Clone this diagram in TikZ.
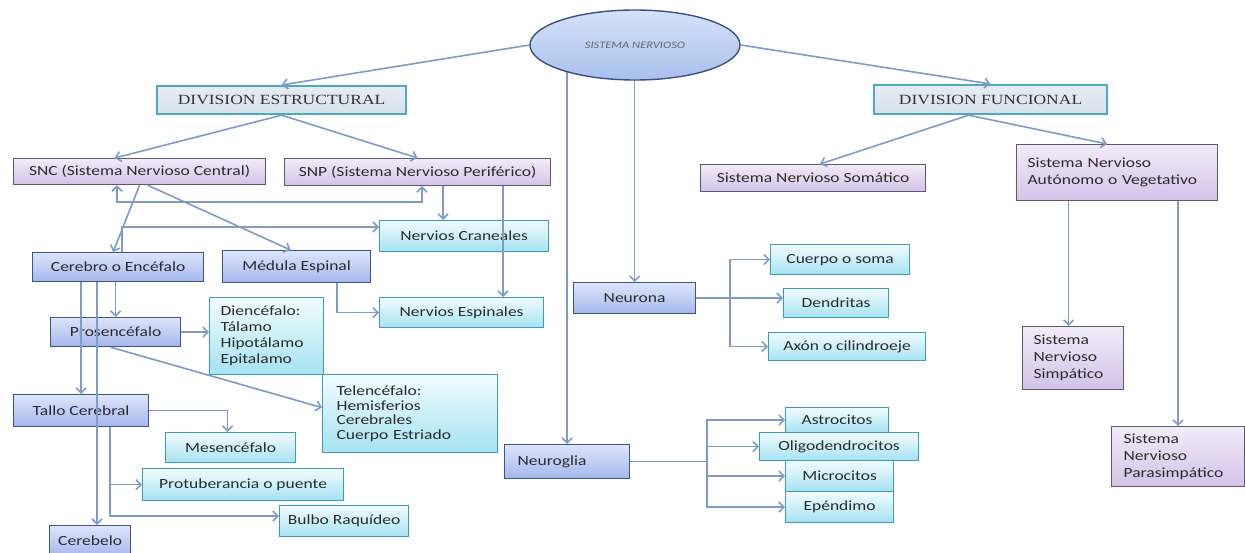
\documentclass[tikz,border=0pt]{standalone}
\usepackage{fontspec}
\newfontfamily\bxf[FakeStretch=1.25]{Carlito}
\newfontfamily\hdf[FakeStretch=1.25]{Liberation Serif}
\usetikzlibrary{arrows.meta,shapes.geometric,calc}
\definecolor{lnc}{HTML}{7F9BC6}
\definecolor{pbd}{HTML}{5E5A6E}
\definecolor{ptop}{HTML}{F1ECF8}
\definecolor{pbot}{HTML}{D3C2E8}
\definecolor{bbd}{HTML}{3E5486}
\definecolor{btop}{HTML}{DEE5FB}
\definecolor{bbot}{HTML}{A4B6ED}
\definecolor{cbd}{HTML}{3A9CB5}
\definecolor{ctop}{HTML}{F2FCFE}
\definecolor{cbot}{HTML}{A6E2F2}
\definecolor{hbd}{HTML}{4EAABB}
\definecolor{htop}{HTML}{E6EDF3}
\definecolor{hbot}{HTML}{D6E1EA}
\definecolor{ebd}{HTML}{3F4F7E}
\definecolor{etop}{HTML}{D5E1F9}
\definecolor{ebot}{HTML}{A9C0EC}
\definecolor{txt}{HTML}{2B2B2B}
\pgfdeclarelayer{bg}
\pgfsetlayers{bg,main}
\begin{document}
\begin{tikzpicture}[x=1pt,y=-1pt,
  base/.style={anchor=north west, inner sep=0pt, text=txt, font=\bxf\fontsize{14}{17}\selectfont},
  pbox/.style={base, draw=pbd, line width=1.2pt, top color=ptop, bottom color=pbot},
  bbox/.style={base, draw=bbd, line width=1.2pt, top color=btop, bottom color=bbot},
  cbox/.style={base, draw=cbd, line width=1.2pt, top color=ctop, bottom color=cbot},
  hbox/.style={base, draw=hbd, line width=2.2pt, top color=htop, bottom color=hbot, font=\hdf\fontsize{14}{17}\selectfont, text=black!80},
  sz/.style 2 args={minimum width=#1, minimum height=#2},
  ml/.style 2 args={align=left, text width=#1, inner xsep=#2},
  arr/.style={draw=lnc, line width=1.6pt, -{Straight Barb[length=5pt,width=10pt]}},
  arr2/.style={draw=lnc, line width=1.6pt, {Straight Barb[length=5pt,width=10pt]}-{Straight Barb[length=5pt,width=10pt]}},
  ln/.style={draw=lnc, line width=1.6pt}
]
\useasboundingbox (0,0) rectangle (1245,553);
\begin{pgfonlayer}{bg}
\fill[white] (0,0) rectangle (1245,553);
\end{pgfonlayer}

% top
\node[ellipse, draw=ebd, line width=1.4pt, top color=etop, bottom color=ebot,
      minimum width=210pt, minimum height=70pt, inner sep=0pt,
      font=\bxf\itshape\fontsize{10}{12}\selectfont, text=black!60] (ell) at (635,45) {SISTEMA NERVIOSO};
\node[hbox, sz={249pt}{28pt}] (des) at (156,85) {DIVISION ESTRUCTURAL};
\node[hbox, sz={233pt}{29pt}] (dfu) at (873,84) {DIVISION FUNCIONAL};

% purple
\node[pbox, sz={252pt}{26pt}] (snc) at (13,158) {SNC (Sistema Nervioso Central)};
\node[pbox, sz={266pt}{27pt}] (snp) at (284,158) {SNP (Sistema Nervioso Periférico)};
\node[pbox, sz={225pt}{27pt}] (som) at (700,164) {Sistema Nervioso Somático};
\node[pbox, sz={201pt}{56pt}, ml={179pt}{11pt}] (aut) at (1016,144) {Sistema Nervioso\\Autónomo o Vegetativo};
\node[pbox, sz={101pt}{63pt}, ml={79pt}{11pt}] (simp) at (1022,326) {Sistema\\Nervioso\\Simpático};
\node[pbox, sz={133pt}{60pt}, ml={109pt}{12pt}] (para) at (1111,426) {Sistema\\Nervioso\\Parasimpático};

% blue
\node[bbox, sz={171pt}{29pt}] (cer) at (32,252) {Cerebro o Encéfalo};
\node[bbox, sz={148pt}{32pt}] (med) at (222,250) {Médula Espinal};
\node[bbox, sz={130pt}{29pt}] (pros) at (50,317) {Prosencéfalo};
\node[bbox, sz={135pt}{32pt}] (tallo) at (13,394) {Tallo Cerebral};
\node[bbox, sz={81pt}{31pt}] (cbl) at (49,525) {Cerebelo};
\node[bbox, sz={122pt}{31pt}] (neur) at (573,282) {Neurona};
\node[bbox, sz={125pt}{34pt}, ml={99pt}{13pt}] (glia) at (504,444) {Neuroglia};

% cyan
\node[cbox, sz={169pt}{31pt}] (cran) at (379,220) {Nervios Craneales};
\node[cbox, sz={164pt}{30pt}] (esp) at (379,297) {Nervios Espinales};
\node[cbox, sz={114pt}{77pt}, ml={92pt}{11pt}, font=\bxf\fontsize{14}{16}\selectfont] (dien) at (209,297) {Diencéfalo:\\Tálamo\\Hipotálamo\\Epitalamo};
\node[cbox, sz={175pt}{78pt}, ml={147pt}{14pt}, font=\bxf\fontsize{14}{14.5}\selectfont] (tel) at (322,374) {Telencéfalo:\\Hemisferios\\Cerebrales\\Cuerpo Estriado};
\node[cbox, sz={130pt}{30pt}] (mes) at (165,432) {Mesencéfalo};
\node[cbox, sz={201pt}{32pt}] (prot) at (142,468) {Protuberancia o puente};
\node[cbox, sz={129pt}{31pt}] (bulbo) at (279,505) {Bulbo Raquídeo};
\node[cbox, sz={139pt}{30pt}] (cuer) at (770,244) {Cuerpo o soma};
\node[cbox, sz={105pt}{29pt}] (dend) at (783,288) {Dendritas};
\node[cbox, sz={157pt}{28pt}] (axon) at (768,332) {Axón o cilindroeje};
\node[cbox, sz={103pt}{25pt}] (astro) at (785,407) {Astrocitos};
\node[cbox, sz={108pt}{31pt}] (micro) at (785,460) {Microcitos};
\node[cbox, sz={108pt}{31pt}] (epen) at (785,491) {Epéndimo};
\node[cbox, sz={159pt}{28pt}] (oligo) at (759,432) {Oligodendrocitos};

% helper coordinates
\coordinate (nt) at (730,299);
\coordinate (gt) at (707,460);
\coordinate (k1) at (443,0);
\coordinate (k2) at (503,0);
\coordinate (j1) at (117,202);
\coordinate (j2) at (422,202);
\coordinate (j3) at (122,227);
\coordinate (j4) at (337,0);
\coordinate (j5) at (97,0);
\coordinate (j6) at (110,0);

% connectors behind the ellipse
\begin{pgfonlayer}{bg}
\draw[arr] (ell.center -| glia.north) -- (glia.north);
\draw[arr] (ell.center -| neur.north) -- (neur.north);
\end{pgfonlayer}

\draw[arr] (ell.west) -- (des.north);
\draw[arr] (ell.east) -- (dfu.north);
\draw[arr] (des.south) -- ([xshift=-25pt]snc.north);
\draw[arr] (des.south) -- (snp.north);
\draw[arr] ([xshift=-22pt]dfu.south) -- ([xshift=7pt]som.north);
\draw[arr] ([xshift=-22pt]dfu.south) -- ([xshift=-10pt]aut.north);
\draw[arr] ([xshift=-4.5pt]simp.north |- aut.south) -- ([xshift=-4.5pt]simp.north);
\draw[arr] (para.north |- aut.south) -- (para.north);

% neurona
\draw[arr] (neur.east) -- (neur.east -| dend.west);
\draw[arr] (neur.east -| nt) |- (cuer.west);
\draw[arr] (neur.east -| nt) |- (axon.west);

% neuroglia
\draw[ln] (glia.east) -- (glia.east -| gt);
\draw[arr] (glia.east -| gt) |- (astro.west);
\draw[arr] (glia.east -| gt) |- (oligo.west);
\draw[arr] (glia.east -| gt) |- (micro.west);
\draw[arr] (glia.east -| gt) |- (epen.west);

% SNC / SNP
\draw[arr] (snp.south -| k1) -- (cran.north -| k1);
\draw[arr] (snp.south -| k2) -- (esp.north -| k2);
\draw[arr2] (snc.south -| j1) -- (j1) -- (j2) -- (snp.south -| j2);
\draw[arr] (snc.south) -- ([xshift=-5pt]cer.north);
\draw[arr] ([xshift=8pt]snc.south) -- ([xshift=-6pt]med.north);
\draw[arr] (cer.north -| j3) -- (j3) -- (j3 -| cran.west);
\draw[arr] (med.south -| j4) |- (esp.west);

% cerebro
\draw[arr] (cer.south -| pros.north) -- (pros.north);
\draw[arr] (cer.south -| tallo.north) -- (tallo.north);
\draw[arr] (cer.south -| j5) -- (cbl.north -| j5);
\draw[arr] (pros.east) -- (pros.east -| dien.west);
\draw[arr] ([xshift=-5pt]pros.south) -- ([yshift=6pt]tel.west);
\draw[arr] (tallo.east) -| ([xshift=-3pt]mes.north);
\draw[arr] (tallo.south -| j6) |- (prot.west);
\draw[arr] (tallo.south -| j6) |- ([yshift=5pt]bulbo.west);
\end{tikzpicture}
\end{document}
